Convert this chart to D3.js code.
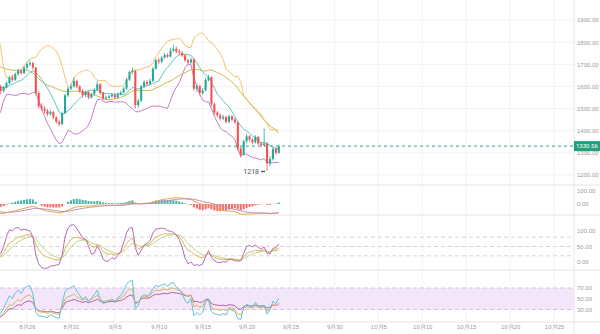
<!DOCTYPE html>
<html>
<head>
<meta charset="utf-8">
<script src="https://cdn.jsdelivr.net/npm/d3@7"></script>
<style>
  html, body { margin: 0; padding: 0; background: #fff; }
  svg { display: block; font-family: Roboto, "Noto Sans CJK SC", sans-serif; }
  .lbl text { font-size: 6px; fill: #9a9a9a; }
</style>
</head>
<body>
<div id="chart"></div>
<script>
// 8h candles starting 2022-08-18 00:00, the first 15 only warm up the indicators (they sit left of the view)
const startTime = new Date(2022, 7, 18, 0);
const stepHours = 8;
const firstOpen = 1860;

const closes = [
  1865, 1870, 1855, 1850, 1835, 1720, 1640, 1615, 1590, 1570, 1580, 1600, 1610, 1620, 1600,
  1580, 1595, 1615, 1640, 1630, 1655, 1670, 1660, 1685, 1700,
  1705, 1685, 1570, 1510, 1500, 1490, 1475, 1485, 1460, 1440,
  1430, 1480, 1560, 1590, 1600, 1625, 1600, 1580, 1560, 1575,
  1550, 1565, 1585, 1610, 1570, 1545, 1550, 1555, 1562, 1550,
  1565, 1572, 1590, 1630, 1665, 1670, 1515, 1535, 1600, 1620,
  1612, 1625, 1680, 1718, 1712, 1730, 1742, 1735, 1762, 1770,
  1758, 1752, 1740, 1718, 1708, 1722, 1590, 1602, 1570, 1582,
  1630, 1642, 1520, 1482, 1470, 1455, 1462, 1440, 1465, 1450,
  1438, 1320, 1292, 1352, 1375, 1360, 1348, 1372, 1342, 1335,
  1342, 1252, 1272, 1318, 1300, 1330.56
];
const highs = [
  1880, 1885, 1875, 1862, 1855, 1840, 1725, 1648, 1620, 1598, 1590, 1608, 1618, 1628, 1625,
  1608, 1602, 1622, 1648, 1652, 1662, 1680, 1678, 1692, 1712,
  1718, 1712, 1690, 1578, 1525, 1512, 1498, 1495, 1490, 1466,
  1450, 1486, 1568, 1598, 1612, 1640, 1630, 1606, 1588, 1582,
  1580, 1572, 1592, 1622, 1615, 1576, 1558, 1562, 1570, 1568,
  1572, 1580, 1598, 1638, 1672, 1685, 1675, 1545, 1608, 1628,
  1630, 1635, 1688, 1725, 1728, 1738, 1752, 1750, 1775, 1788,
  1780, 1768, 1760, 1745, 1725, 1730, 1728, 1612, 1608, 1592,
  1640, 1652, 1646, 1528, 1490, 1478, 1472, 1468, 1472, 1470,
  1458, 1442, 1328, 1360, 1385, 1380, 1366, 1380, 1376, 1350,
  1410, 1348, 1285, 1325, 1324, 1338
];
const lows = [
  1850, 1858, 1848, 1840, 1828, 1710, 1630, 1605, 1580, 1560, 1562, 1575, 1595, 1605, 1592,
  1565, 1572, 1590, 1610, 1622, 1625, 1648, 1652, 1655, 1678,
  1692, 1675, 1560, 1500, 1490, 1478, 1465, 1468, 1452, 1432,
  1420, 1425, 1475, 1552, 1582, 1595, 1592, 1572, 1550, 1552,
  1542, 1545, 1560, 1580, 1562, 1538, 1540, 1544, 1550, 1545,
  1546, 1560, 1568, 1585, 1625, 1655, 1500, 1505, 1530, 1592,
  1602, 1605, 1620, 1675, 1702, 1705, 1725, 1728, 1730, 1755,
  1750, 1742, 1732, 1710, 1698, 1702, 1580, 1575, 1560, 1562,
  1578, 1622, 1510, 1472, 1460, 1445, 1448, 1432, 1435, 1442,
  1430, 1310, 1280, 1288, 1345, 1350, 1338, 1342, 1335, 1325,
  1328, 1218, 1240, 1265, 1292, 1296
];

const lastPrice = 1330.56;
const lowMark = 1218;

const priceTicks = [1200, 1300, 1400, 1500, 1600, 1700, 1800, 1900, 2000];
const macdTicks = [0, 100];
const kdjTicks = [0, 50, 100];
const kdjLevels = [20, 50, 80];
const rsiTicks = [30, 50, 70];
const rsiBand = [30, 70];
const dateTicks = ["2022-08-26", "2022-08-31", "2022-09-05", "2022-09-10", "2022-09-15", "2022-09-20",
  "2022-09-25", "2022-09-30", "2022-10-05", "2022-10-10", "2022-10-15", "2022-10-20", "2022-10-25"];

const W = 600, H = 334, plotRight = 574;
const upColor = "#26a69a", downColor = "#ef5350";
const parseDay = d3.timeParse("%Y-%m-%d");

const n = closes.length;
const times = d3.range(n).map(i => d3.timeHour.offset(startTime, i * stepHours));
const opens = closes.map((c, i) => i === 0 ? firstOpen : closes[i - 1]);

// indicators
function sma(v, p) {
    return v.map((_, i) => d3.mean(v.slice(Math.max(0, i - p + 1), i + 1)));
}
function ema(v, p) {
    const k = 2 / (p + 1);
    let e;
    return v.map((x, i) => e = i === 0 ? x : e + k * (x - e));
}
function rsi(v, p) {
    let up = 0, dn = 0;
    return v.map((c, i) => {
        if (i === 0) return 50;
        const ch = c - v[i - 1];
        up = (up * (p - 1) + Math.max(ch, 0)) / p;
        dn = (dn * (p - 1) + Math.max(-ch, 0)) / p;
        return dn === 0 ? 100 : 100 - 100 / (1 + up / dn);
    });
}

const bbMid = sma(closes, 12);
const bbSd = closes.map((_, i) => {
    const w = closes.slice(Math.max(0, i - 11), i + 1);
    const m = d3.mean(w);
    return Math.sqrt(d3.mean(w, x => (x - m) * (x - m)));
});
const bbUp = bbMid.map((m, i) => m + 2 * bbSd[i]);
const bbLo = bbMid.map((m, i) => m - 2 * bbSd[i]);
const maFast = sma(closes, 9);
const maSlow = sma(closes, 25);

const ema12 = ema(closes, 12), ema26 = ema(closes, 26);
const dif = ema12.map((v, i) => v - ema26[i]);
const dea = ema(dif, 9);
const hist = dif.map((v, i) => 2 * (v - dea[i]));

let K = 50, D = 50;
const kdj = closes.map((c, i) => {
    const lo = d3.min(lows.slice(Math.max(0, i - 8), i + 1));
    const hi = d3.max(highs.slice(Math.max(0, i - 8), i + 1));
    const rsv = hi === lo ? 50 : (c - lo) / (hi - lo) * 100;
    K = (2 * K + rsv) / 3;
    D = (2 * D + K) / 3;
    return { k: K, d: D, j: 3 * K - 2 * D };
});

const rsi6 = rsi(closes, 6), rsi12 = rsi(closes, 12), rsi24 = rsi(closes, 24);

// scales
const x = d3.scaleTime().domain([parseDay("2022-08-26"), parseDay("2022-10-25")]).range([27, 554]);
const y = d3.scaleLinear().domain([1200, 1900]).range([175, 20]);
const yMacd = d3.scaleLinear().domain([0, 100]).range([204, 191]);
const yKdj = d3.scaleLinear().domain([0, 100]).range([262, 231]);
const yRsi = d3.scaleLinear().domain([30, 70]).range([309.5, 288]);

const pitch = x(times[1]) - x(times[0]);
const bodyW = Math.max(1, pitch * 0.7);

const svg = d3.select("#chart").append("svg")
    .attr("width", W)
    .attr("height", H);

const defs = svg.append("defs");
function clip(id, y0, y1) {
    defs.append("clipPath").attr("id", id)
        .append("rect").attr("x", 0).attr("y", y0).attr("width", plotRight).attr("height", y1 - y0);
    return svg.append("g").attr("clip-path", `url(#${id})`);
}

// grid
const tickDates = dateTicks.map(parseDay);
svg.append("g").selectAll("line")
    .data(tickDates)
    .enter().append("line")
    .attr("x1", d => x(d)).attr("x2", d => x(d))
    .attr("y1", 0).attr("y2", 322)
    .attr("stroke", "#f3f3f3");
svg.append("g").selectAll("line")
    .data(priceTicks)
    .enter().append("line")
    .attr("x1", 0).attr("x2", plotRight)
    .attr("y1", d => y(d)).attr("y2", d => y(d))
    .attr("stroke", "#f3f3f3");

// pane separators
[185, 215, 270, 322].forEach(py => {
    svg.append("line")
        .attr("x1", 0).attr("x2", W)
        .attr("y1", py).attr("y2", py)
        .attr("stroke", "#e4e4e4");
});
svg.append("line")
    .attr("x1", plotRight).attr("x2", plotRight)
    .attr("y1", 0).attr("y2", H)
    .attr("stroke", "#e4e4e4");

// main pane
const main = clip("clip-main", 0, 185);

function drawLine(g, values, scale, color) {
    const line = d3.line()
        .x((d, i) => x(times[i]))
        .y(d => scale(d));
    g.append("path")
        .datum(values)
        .attr("fill", "none")
        .attr("stroke", color)
        .attr("stroke-width", 1)
        .attr("d", line);
}

drawLine(main, bbUp, y, "#f3c46e");
drawLine(main, bbLo, y, "#c57fc3");
drawLine(main, maSlow, y, "#d3b74c");
drawLine(main, maFast, y, "#5cc6c2");

const candles = main.selectAll(".candle")
    .data(d3.range(n))
    .enter().append("g")
    .attr("class", "candle");
candles.append("line")
    .attr("x1", i => x(times[i])).attr("x2", i => x(times[i]))
    .attr("y1", i => y(highs[i])).attr("y2", i => y(lows[i]))
    .attr("stroke", i => closes[i] >= opens[i] ? upColor : downColor)
    .attr("stroke-width", 0.8);
candles.append("rect")
    .attr("x", i => x(times[i]) - bodyW / 2)
    .attr("width", bodyW)
    .attr("y", i => y(Math.max(opens[i], closes[i])))
    .attr("height", i => Math.max(0.8, Math.abs(y(opens[i]) - y(closes[i]))))
    .attr("fill", i => closes[i] >= opens[i] ? upColor : downColor);

// last price line
svg.append("line")
    .attr("x1", 0).attr("x2", plotRight)
    .attr("y1", y(lastPrice)).attr("y2", y(lastPrice))
    .attr("stroke", upColor)
    .attr("stroke-dasharray", "3,3");

// low marker
const lowIdx = lows.indexOf(lowMark);
svg.append("text")
    .attr("x", x(times[lowIdx]) - 8)
    .attr("y", y(lowMark) + 2.5)
    .attr("text-anchor", "end")
    .attr("font-size", 7)
    .attr("fill", "#555")
    .text(String(lowMark));
svg.append("line")
    .attr("x1", x(times[lowIdx]) - 6).attr("x2", x(times[lowIdx]) - 2)
    .attr("y1", y(lowMark) + 0.5).attr("y2", y(lowMark) + 0.5)
    .attr("stroke", "#555")
    .attr("stroke-width", 1.4);

// MACD pane
const macdG = clip("clip-macd", 186, 215);
macdG.selectAll("rect")
    .data(d3.range(n))
    .enter().append("rect")
    .attr("x", i => x(times[i]) - bodyW / 2)
    .attr("width", bodyW)
    .attr("y", i => Math.min(yMacd(0), yMacd(hist[i])))
    .attr("height", i => Math.abs(yMacd(hist[i]) - yMacd(0)))
    .attr("fill", i => hist[i] >= 0 ? upColor : downColor)
    .attr("opacity", 0.85);
drawLine(macdG, dif, yMacd, "#e0a94a");
drawLine(macdG, dea, yMacd, "#c58fb4");

// KDJ pane
const kdjG = clip("clip-kdj", 216, 270);
kdjG.selectAll(".lvl")
    .data(kdjLevels)
    .enter().append("line")
    .attr("x1", 0).attr("x2", plotRight)
    .attr("y1", d => yKdj(d)).attr("y2", d => yKdj(d))
    .attr("stroke", "#d6d6d6")
    .attr("stroke-dasharray", "4,3");
drawLine(kdjG, kdj.map(d => d.d), yKdj, "#b9d98a");
drawLine(kdjG, kdj.map(d => d.k), yKdj, "#ddb45a");
drawLine(kdjG, kdj.map(d => d.j), yKdj, "#b46cb4");

// RSI pane
const rsiG = clip("clip-rsi", 271, 322);
rsiG.append("rect")
    .attr("x", 0).attr("width", plotRight)
    .attr("y", yRsi(rsiBand[1]))
    .attr("height", yRsi(rsiBand[0]) - yRsi(rsiBand[1]))
    .attr("fill", "#f3e6fb");
rsiG.selectAll(".lvl")
    .data(rsiBand)
    .enter().append("line")
    .attr("x1", 0).attr("x2", plotRight)
    .attr("y1", d => yRsi(d)).attr("y2", d => yRsi(d))
    .attr("stroke", "#cfc3d6")
    .attr("stroke-dasharray", "4,3");
drawLine(rsiG, rsi24, yRsi, "#b2659e");
drawLine(rsiG, rsi12, yRsi, "#ddb45a");
drawLine(rsiG, rsi6, yRsi, "#5fc4d4");

// axes
function rightAxis(scale, ticks) {
    const g = svg.append("g")
        .attr("class", "lbl")
        .attr("transform", `translate(${plotRight},0)`)
        .call(d3.axisRight(scale).tickValues(ticks).tickFormat(d3.format(".2f")).tickSize(0).tickPadding(3));
    g.select(".domain").remove();
}
rightAxis(y, priceTicks);
rightAxis(yMacd, macdTicks);
rightAxis(yKdj, kdjTicks);
rightAxis(yRsi, rsiTicks);

const xAxis = svg.append("g")
    .attr("class", "lbl")
    .attr("transform", "translate(0,322)")
    .call(d3.axisBottom(x).tickValues(tickDates)
        .tickFormat(d => (d.getMonth() + 1) + "月" + d.getDate())
        .tickSize(0).tickPadding(3));
xAxis.select(".domain").remove();

// last price tag
svg.append("rect")
    .attr("x", plotRight).attr("y", y(lastPrice) - 5)
    .attr("width", W - plotRight).attr("height", 10)
    .attr("fill", "#22a07c");
svg.append("text")
    .attr("x", plotRight + 2).attr("y", y(lastPrice) + 2.2)
    .attr("font-size", 6)
    .attr("fill", "#fff")
    .text(lastPrice.toFixed(2));
</script>
</body>
</html>
